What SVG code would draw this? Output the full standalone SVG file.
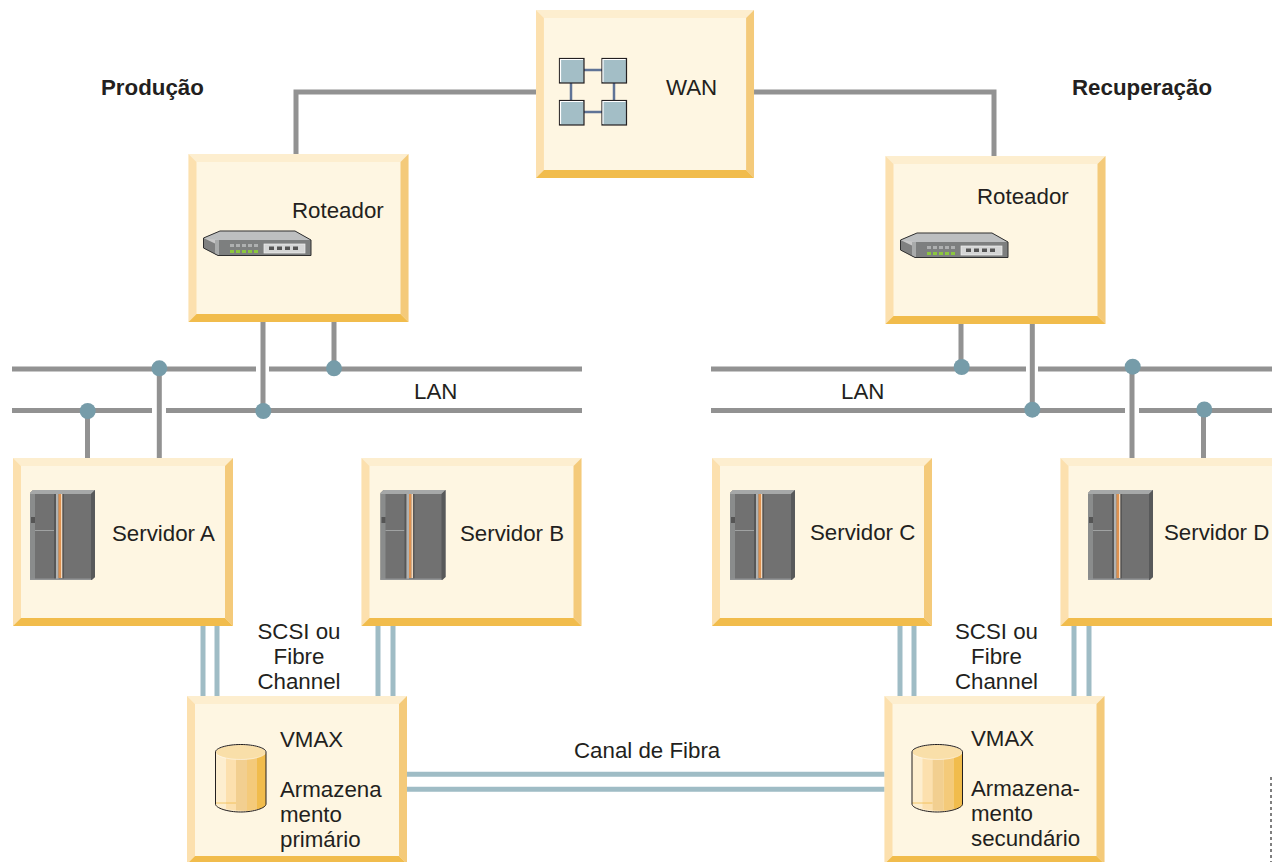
<svg xmlns="http://www.w3.org/2000/svg" xmlns:xlink="http://www.w3.org/1999/xlink" width="1272" height="862" viewBox="0 0 1272 862">
<style>
text{font-family:"Liberation Sans",Arial,sans-serif;font-size:22.300px;fill:#231f20}
.b{font-weight:bold}
.m{text-anchor:middle}
.g{fill:none;stroke:#929292;stroke-width:5}
.s{fill:none;stroke:#9fbcc5;stroke-width:5}
.d{fill:#769ca9}
</style>
<defs>
<g id="box">
<rect width="220" height="168" fill="#fef6e2"/>
<polygon points="0,0 220,0 212,8 8,8" fill="#fdeecf"/>
<polygon points="0,0 8,8 8,160 0,168" fill="#fce0ae"/>
<polygon points="220,0 220,168 212,160 212,8" fill="#f4ca7a"/>
<polygon points="0,168 8,160 212,160 220,168" fill="#f1bc4c"/>
</g>
<g id="router">
<polygon points="0.5,8 0.5,18 15,25.5 108,25.5 108,10 92,1 17,1" fill="#c8c8c8"/>
<polygon points="0.5,8 14,2 92,1 108,10 15,10" fill="#bdbfc0"/>
<polygon points="0.5,8 13,14 15,25.5 0.5,18" fill="#7f8080"/>
<rect x="15" y="10" width="93" height="15" fill="#7d7f7f"/>
<rect x="12" y="10" width="4" height="15" fill="#a9abab"/>
<path d="M17 1 0.5 8V18L15 25.5H108V10L92 1Z" fill="none" stroke="#2f2f2f" stroke-width="1"/>
<g fill="#aeb0b0"><rect x="27" y="14" width="4" height="3"/><rect x="33" y="14" width="4" height="3"/><rect x="39" y="14" width="4" height="3"/><rect x="45" y="14" width="4" height="3"/><rect x="51" y="14" width="4" height="3"/></g>
<g fill="#8cc63f"><rect x="27" y="20" width="4" height="3"/><rect x="33" y="20" width="4" height="3"/><rect x="39" y="20" width="4" height="3"/><rect x="45" y="20" width="4" height="3"/><rect x="51" y="20" width="4" height="3"/></g>
<rect x="61" y="14" width="41" height="9" fill="#d5d6d6" stroke="#f0f0f0" stroke-width="0.7"/>
<g fill="#555"><rect x="66" y="16.500" width="5" height="3.500"/><rect x="74" y="16.500" width="5" height="3.500"/><rect x="82" y="16.500" width="5" height="3.500"/><rect x="90" y="16.500" width="5" height="3.500"/></g>
</g>
<g id="server">
<polygon points="0,3 3,0 65,0 65,87 62,90 0,90" fill="#717171"/>
<polygon points="0,3 3,0 65,0 61,4 0,4" fill="#a6a8a8"/>
<polygon points="61,4 65,0 65,87 61,90" fill="#58595a"/>
<rect x="0" y="4" width="5" height="85" fill="#8a8c8c"/>
<rect x="1" y="27" width="4" height="6" fill="#555"/>
<rect x="5" y="40" width="19" height="1" fill="#a0a2a2"/>
<rect x="24" y="4" width="2" height="85" fill="#575757"/>
<rect x="26" y="4" width="2.500" height="85" fill="#b0b2b2"/>
<rect x="28.500" y="4" width="2.500" height="84" fill="#de914f"/>
<rect x="31" y="4" width="1.500" height="84" fill="#f3d9bd"/>
<rect x="32.500" y="4" width="1.500" height="85" fill="#575757"/>
<rect x="0" y="88.500" width="61" height="1.500" fill="#929495"/>
</g>
<g id="cyl">
<path d="M0.500 8V60C0.500 64 12 68 26 68S51 64 51 60V8Z" fill="#fdeecf"/>
<path d="M11 8H21V66.500L11 65Z" fill="#fce0ae"/>
<path d="M21 8H32V67L21 66.500Z" fill="#f2cf90"/>
<path d="M32 8H42V65.500L32 67Z" fill="#f4ca7a"/>
<path d="M42 8H51V60C51 63 47 64.500 42 65.500Z" fill="#f1bc4c"/>
<ellipse cx="25.700" cy="8" rx="25.200" ry="7.500" fill="#f9dfa9" stroke="#fff" stroke-width="0.500"/>
<path d="M0.500 59H21" stroke="#f1bc4c" stroke-width="0.800" fill="none"/>
<path d="M0.500 8C0.500 4 12 0.500 25.700 0.500S51 4 51 8V60C51 64 39 68 25.700 68S0.500 64 0.500 60Z" fill="none" stroke="#231f20" stroke-width="1"/>
</g>
<g id="sq"><rect width="24.500" height="24.500" fill="#a3bec6" stroke="#231f20" stroke-width="1.200"/><path d="M1 23.500V1H23.500" fill="none" stroke="#fff" stroke-width="1.200"/></g>
</defs>

<g id="connectors">
<path class="g" d="M296 154V92H536M754 92H994V156"/>
<path class="g" d="M12 369H256M269 369H582M12 410.500H152M166 410.500H582"/>
<path class="g" d="M711 369H1026M1038 369H1272M711 410.500H1125M1139 410.500H1272"/>
<path class="g" d="M263 322V411M334 322V369M87.500 411V458M159.300 369V458"/>
<path class="g" d="M961 324V367M1032.300 324V410M1132 367V458M1203.500 410V458"/>
<path class="s" d="M203 626V696M217 626V696M378 626V696M393 626V696M900 626V696M914 626V696M1074 626V696M1089 626V696"/>
<path class="s" d="M407 774.300H885M407 789.300H885"/>
<circle class="d" cx="159.300" cy="368.300" r="8"/><circle class="d" cx="334" cy="368.300" r="8"/>
<circle class="d" cx="87.700" cy="411" r="8"/><circle class="d" cx="263.300" cy="411" r="8"/>
<circle class="d" cx="961.700" cy="367" r="8"/><circle class="d" cx="1132.700" cy="366.700" r="8"/>
<circle class="d" cx="1032.300" cy="409.700" r="8"/><circle class="d" cx="1204.300" cy="409.500" r="8"/>
</g>

<g id="wan">
<use href="#box" xlink:href="#box" transform="translate(536 10) scale(.991 1)"/>
<path d="M571 70V112M614 70V112M583 70H602M583 112H602" stroke="#5f7396" stroke-width="2.500" fill="none"/>
<use href="#sq" xlink:href="#sq" x="559.500" y="58.500"/><use href="#sq" xlink:href="#sq" x="602" y="58.500"/>
<use href="#sq" xlink:href="#sq" x="559.500" y="100.500"/><use href="#sq" xlink:href="#sq" x="602" y="100.500"/>
<text x="666" y="95">WAN</text>
</g>
<g id="router-prod"><use href="#box" xlink:href="#box" x="188.500" y="154"/><use href="#router" xlink:href="#router" x="203" y="230"/><text x="292" y="218">Roteador</text></g>
<g id="router-rec"><use href="#box" xlink:href="#box" x="885.500" y="156"/><use href="#router" xlink:href="#router" x="900" y="232"/><text x="977" y="204">Roteador</text></g>
<g id="server-a"><use href="#box" xlink:href="#box" x="13" y="458"/><use href="#server" xlink:href="#server" x="30" y="490"/><text x="112" y="541">Servidor A</text></g>
<g id="server-b"><use href="#box" xlink:href="#box" x="361.500" y="458"/><use href="#server" xlink:href="#server" x="380.500" y="490"/><text x="460" y="541">Servidor B</text></g>
<g id="server-c"><use href="#box" xlink:href="#box" x="712" y="458"/><use href="#server" xlink:href="#server" x="730" y="490"/><text x="810" y="540">Servidor C</text></g>
<g id="server-d"><use href="#box" xlink:href="#box" x="1060.500" y="458"/><use href="#server" xlink:href="#server" x="1088" y="490"/><text x="1164" y="540">Servidor D</text></g>
<g id="vmax-prod"><use href="#box" xlink:href="#box" x="187" y="696"/><use href="#cyl" xlink:href="#cyl" x="215" y="744"/>
<text x="280" y="747">VMAX</text><text x="280" y="797">Armazena</text><text x="280" y="822">mento</text><text x="280" y="847">primário</text></g>
<g id="vmax-rec"><use href="#box" xlink:href="#box" x="884.500" y="696"/><use href="#cyl" xlink:href="#cyl" x="911.500" y="744"/>
<text x="971" y="746">VMAX</text><text x="971" y="796">Armazena-</text><text x="971" y="821">mento</text><text x="971" y="846">secundário</text></g>

<g id="labels">
<text class="b" x="101" y="95">Produção</text>
<text class="b" x="1072" y="95">Recuperação</text>
<text x="414" y="399">LAN</text>
<text x="841" y="399">LAN</text>
<text class="m" x="299" y="639">SCSI ou</text><text class="m" x="299" y="664">Fibre</text><text class="m" x="299" y="689">Channel</text>
<text class="m" x="996.500" y="639">SCSI ou</text><text class="m" x="996.500" y="664">Fibre</text><text class="m" x="996.500" y="689">Channel</text>
<text x="574" y="758">Canal de Fibra</text>
</g>
<path d="M1271 777V862" stroke="#555" stroke-width="1.500" stroke-dasharray="3 3" fill="none"/>
</svg>
